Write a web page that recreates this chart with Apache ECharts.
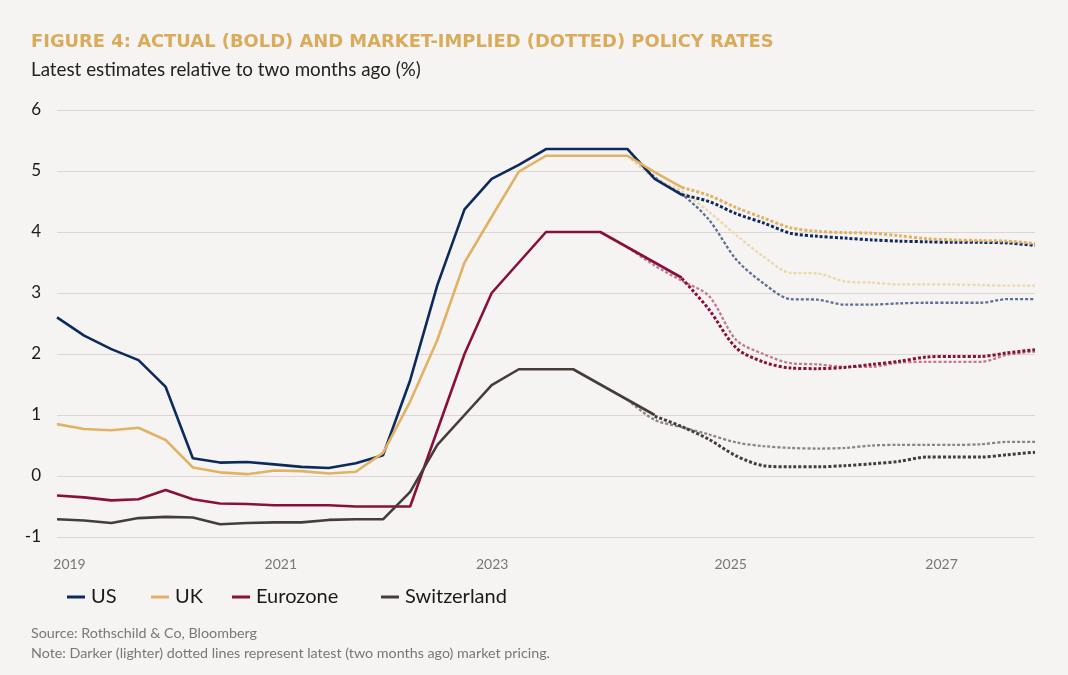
<!DOCTYPE html>
<html>
<head>
<meta charset="utf-8">
<title>Policy rates</title>
<script src="https://cdn.jsdelivr.net/npm/echarts@6.0.0/dist/echarts.min.js"></script>
<style>
  html, body { margin: 0; padding: 0; background: #f5f4f3; }
  #chart { width: 1068px; height: 675px; }
</style>
</head>
<body>
<div id="chart"></div>
<script>
// quarterly points, 2019 Q1 .. 2028 Q1
var periods = [];
for (var y = 2019; y <= 2028; y++) {
  for (var q = 1; q <= 4; q++) {
    if (y === 2028 && q > 1) break;
    periods.push(y + ' Q' + q);
  }
}

// x-axis year labels and where they sit (in quarter index)
var yearLabels = ['2019', '2021', '2023', '2025', '2027'];
var yearLabelPos = [0.46, 8.24, 16.02, 24.8, 32.56];

var yTicks = [-1, 0, 1, 2, 3, 4, 5, 6];

var legendNames = ['US', 'UK', 'Eurozone', 'Switzerland'];

// actual policy rates (start at index 0)
var usActual = [2.6, 2.3, 2.08, 1.9, 1.46, 0.29, 0.22, 0.23, 0.19, 0.15, 0.13, 0.21, 0.34, 1.57, 3.13, 4.37, 4.87, 5.1, 5.36, 5.36, 5.36, 5.36, 4.87, 4.61];
var ukActual = [0.85, 0.77, 0.75, 0.79, 0.59, 0.14, 0.06, 0.03, 0.09, 0.08, 0.04, 0.07, 0.38, 1.22, 2.23, 3.5, 4.25, 4.99, 5.25, 5.25, 5.25, 5.25, 4.98, 4.73];
var ezActual = [-0.32, -0.35, -0.4, -0.38, -0.23, -0.38, -0.45, -0.46, -0.48, -0.48, -0.48, -0.5, -0.5, -0.5, 0.75, 2.0, 3.0, 3.5, 4.0, 4.0, 4.0, 3.75, 3.5, 3.25];
var chActual = [-0.71, -0.73, -0.77, -0.69, -0.67, -0.68, -0.79, -0.77, -0.76, -0.76, -0.72, -0.71, -0.71, -0.26, 0.51, 1.0, 1.49, 1.75, 1.75, 1.75, 1.5, 1.25, 1.0];

// latest market pricing (dark dotted)
var usLatestStart = 23;
var usLatest = [4.61, 4.5, 4.3, 4.15, 3.98, 3.93, 3.9, 3.87, 3.85, 3.84, 3.83, 3.83, 3.82, 3.78];
var ukLatestStart = 23;
var ukLatest = [4.73, 4.6, 4.4, 4.23, 4.07, 4.01, 3.99, 3.98, 3.94, 3.89, 3.87, 3.86, 3.85, 3.81];
var ezLatestStart = 23;
var ezLatest = [3.24, 2.73, 2.1, 1.87, 1.77, 1.76, 1.78, 1.83, 1.88, 1.95, 1.96, 1.96, 2.02, 2.07];
var chLatestStart = 22;
var chLatest = [0.98, 0.81, 0.6, 0.33, 0.17, 0.15, 0.15, 0.17, 0.2, 0.24, 0.31, 0.31, 0.31, 0.35, 0.39];

// market pricing two months ago (light dotted)
var usOldStart = 21;
var usOld = [5.36, 4.9, 4.62, 4.2, 3.55, 3.16, 2.9, 2.89, 2.81, 2.81, 2.83, 2.84, 2.84, 2.84, 2.9, 2.9];
var ukOldStart = 21;
var ukOld = [5.25, 4.88, 4.67, 4.33, 3.95, 3.6, 3.33, 3.32, 3.19, 3.17, 3.14, 3.14, 3.14, 3.13, 3.12, 3.12];
var ezOldStart = 21;
var ezOld = [3.75, 3.45, 3.2, 2.95, 2.23, 2.0, 1.85, 1.83, 1.79, 1.79, 1.86, 1.87, 1.87, 1.87, 1.99, 2.04];
var chOldStart = 21;
var chOld = [1.25, 0.92, 0.8, 0.68, 0.55, 0.49, 0.46, 0.45, 0.46, 0.5, 0.51, 0.51, 0.51, 0.52, 0.56, 0.56];

(function () {
  var myChart = echarts.init(document.getElementById('chart'));

  var font = 'Lato, "Noto Sans", sans-serif';
  var colors = {
    US: ['#0c2a5b', '#5f6e96'],
    UK: ['#e2b264', '#eed6a8'],
    Eurozone: ['#8a0f3c', '#c27a93'],
    Switzerland: ['#463d38', '#8b8480']
  };

  // turn a value list into [index, value] pairs
  function pairs(arr, start) {
    return arr.map(function (v, i) { return [start + i, v]; });
  }

  function solid(name, arr) {
    return {
      name: name, type: 'line', data: pairs(arr, 0), symbol: 'none', z: 5,
      lineStyle: { color: colors[name][0], width: 2.6 },
      itemStyle: { color: colors[name][0] }
    };
  }
  function dotted(name, arr, start, old) {
    var c = old ? colors[name][1] : colors[name][0];
    return {
      name: name + (old ? ' (two months ago)' : ' (latest)'),
      type: 'line', data: pairs(arr, start), symbol: 'none', smooth: 0.3,
      z: old ? 2 : 3,
      lineStyle: { color: c, width: old ? 2.3 : 3, type: [3, 2] },
      itemStyle: { color: c }
    };
  }

  // one legend block per country so the spacing follows the original
  var legendLeft = [62, 146, 227, 376];
  var legends = legendNames.map(function (n, i) {
    return {
      data: [n],
      left: legendLeft[i], top: 582,
      icon: 'rect', itemWidth: 18, itemHeight: 3, itemGap: 0,
      textStyle: { fontFamily: font, fontSize: 20, color: '#1a1a1a', padding: [0, 0, 0, 1] }
    };
  });

  var option = {
    backgroundColor: '#f5f4f3',
    animation: false,
    title: [
      {
        text: 'FIGURE 4: ACTUAL (BOLD) AND MARKET-IMPLIED (DOTTED) POLICY RATES',
        left: 26, top: 28,
        textStyle: { fontFamily: '"DejaVu Sans", sans-serif', fontWeight: 'bold', fontSize: 17.9, color: '#d9ab5a' }
      },
      {
        text: 'Latest estimates relative to two months ago (%)',
        left: 26, top: 55,
        textStyle: { fontFamily: font, fontWeight: 'normal', fontSize: 18.8, color: '#222' }
      },
      {
        text: 'Source: Rothschild & Co, Bloomberg\nNote: Darker (lighter) dotted lines represent latest (two months ago) market pricing.',
        left: 26, top: 618,
        textStyle: { fontFamily: font, fontWeight: 'normal', fontSize: 14.3, color: '#777', lineHeight: 20 }
      }
    ],
    legend: legends,
    grid: { left: 57, right: 33, top: 110, bottom: 138 },
    xAxis: {
      type: 'value',
      min: 0,
      max: periods.length - 1,
      axisLine: { show: false },
      axisTick: { show: false },
      splitLine: { show: false },
      axisLabel: {
        customValues: yearLabelPos,
        formatter: function (v) {
          var i = yearLabelPos.indexOf(v);
          return i >= 0 ? yearLabels[i] : '';
        },
        margin: 20,
        fontFamily: font, fontSize: 14, color: '#777'
      }
    },
    yAxis: {
      type: 'value',
      min: yTicks[0],
      max: yTicks[yTicks.length - 1],
      interval: 1,
      axisLine: { show: false },
      axisTick: { show: false },
      axisLabel: { margin: 16, fontFamily: font, fontSize: 17, color: '#1a1a1a' },
      splitLine: { lineStyle: { color: '#ddd4d3', width: 1 } }
    },
    series: [
      dotted('US', usOld, usOldStart, true),
      dotted('UK', ukOld, ukOldStart, true),
      dotted('Eurozone', ezOld, ezOldStart, true),
      dotted('Switzerland', chOld, chOldStart, true),
      dotted('US', usLatest, usLatestStart, false),
      dotted('UK', ukLatest, ukLatestStart, false),
      dotted('Eurozone', ezLatest, ezLatestStart, false),
      dotted('Switzerland', chLatest, chLatestStart, false),
      solid('US', usActual),
      solid('UK', ukActual),
      solid('Eurozone', ezActual),
      solid('Switzerland', chActual)
    ]
  };

  myChart.setOption(option);
  window.addEventListener('resize', function () {
    myChart.resize();
  });
})();
</script>
</body>
</html>
